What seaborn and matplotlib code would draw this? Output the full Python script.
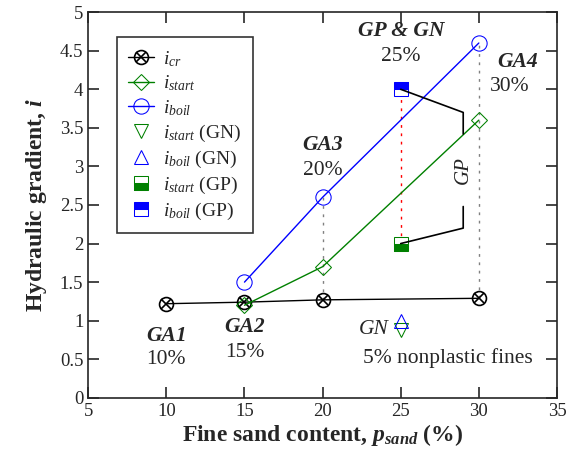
import matplotlib
matplotlib.use("Agg")
import matplotlib.pyplot as plt
import seaborn as sns

# GA series (fine sand content, %)
sand_cr = [10, 15, 20, 30]
i_cr = [1.22, 1.24, 1.27, 1.29]
sand_ga = [15, 20, 30]
i_start = [1.2, 1.7, 3.6]
i_boil = [1.5, 2.6, 4.6]

# GN / GP specimens at 25 %
sand_g = [25]
i_start_gn = [0.88]
i_boil_gn = [0.99]
i_start_gp = [2.0]
i_boil_gp = [4.0]

sns.set_style("ticks")
plt.rcParams['font.family'] = ['Liberation Serif', 'DejaVu Serif']
plt.rcParams['mathtext.fontset'] = 'custom'
plt.rcParams['mathtext.it'] = 'Liberation Serif:italic'
plt.rcParams['mathtext.rm'] = 'Liberation Serif'
plt.rcParams['mathtext.bf'] = 'Liberation Serif:italic:bold'

green = '#008000'
blue = '#0000ff'

fig, ax = plt.subplots(figsize=(5.73, 4.68), dpi=100)
fig.subplots_adjust(left=0.154, right=0.972, top=0.974, bottom=0.15)

# guide lines
ax.plot([20, 20], [1.27, 2.6], ls=(0, (2, 4)), color='gray', lw=1)
ax.plot([30, 30], [1.29, 4.6], ls=(0, (2, 4)), color='gray', lw=1)
ax.plot([25, 25], [2.0, 4.0], ls=(0, (2, 4)), color='red', lw=1)

sns.lineplot(x=sand_cr, y=i_cr, ax=ax, color='black', lw=1, marker='o', ms=10,
             mfc='none', mec='black', mew=1.2, label=r'$i_{cr}$')
xmark, = ax.plot(sand_cr, i_cr, ls='none', marker='x', ms=7, color='black', mew=1.2)
sns.lineplot(x=sand_ga, y=i_start, ax=ax, color=green, lw=1, marker='D', ms=8,
             mfc='none', mec=green, label=r'$i_{start}$')
sns.lineplot(x=sand_ga, y=i_boil, ax=ax, color=blue, lw=1, marker='o', ms=11,
             mfc='none', mec=blue, label=r'$i_{boil}$')
sns.lineplot(x=sand_g, y=i_start_gn, ax=ax, ls='none', marker='v', ms=10,
             mfc='none', mec=green, color=green, label=r'$i_{start}$ (GN)')
sns.lineplot(x=sand_g, y=i_boil_gn, ax=ax, ls='none', marker='^', ms=10,
             mfc='none', mec=blue, color=blue, label=r'$i_{boil}$ (GN)')
sns.lineplot(x=sand_g, y=i_start_gp, ax=ax, ls='none', marker='s', ms=10,
             fillstyle='bottom', mfc=green, mfcalt='white', mec=green, color=green,
             label=r'$i_{start}$ (GP)')
sns.lineplot(x=sand_g, y=i_boil_gp, ax=ax, ls='none', marker='s', ms=10,
             fillstyle='top', mfc=blue, mfcalt='white', mec=blue, color=blue,
             label=r'$i_{boil}$ (GP)')

# GP brackets
ax.plot([25, 29, 29], [4.0, 3.7, 3.42], color='black', lw=1.2)
ax.plot([25, 29, 29], [2.0, 2.2, 2.48], color='black', lw=1.2)
ax.text(29, 2.95, 'GP', rotation=90, ha='center', va='center', fontsize=15, style='italic')

fs = 15.5
ax.text(10, 0.8, 'GA1', ha='center', va='center', fontsize=fs, weight='bold', style='italic')
ax.text(10, 0.5, '10%', ha='center', va='center', fontsize=fs)
ax.text(15, 0.92, 'GA2', ha='center', va='center', fontsize=fs, weight='bold', style='italic')
ax.text(15, 0.59, '15%', ha='center', va='center', fontsize=fs)
ax.text(20, 3.28, 'GA3', ha='center', va='center', fontsize=fs, weight='bold', style='italic')
ax.text(20, 2.95, '20%', ha='center', va='center', fontsize=fs)
ax.text(25, 4.75, 'GP & GN', ha='center', va='center', fontsize=fs, weight='bold', style='italic')
ax.text(25, 4.42, '25%', ha='center', va='center', fontsize=fs)
ax.text(32.5, 4.36, 'GA4', ha='center', va='center', fontsize=fs, weight='bold', style='italic')
ax.text(32.0, 4.03, '30%', ha='center', va='center', fontsize=fs)
ax.text(23.3, 0.88, 'GN', ha='center', va='center', fontsize=fs, style='italic')
ax.text(28.0, 0.52, '5% nonplastic fines', ha='center', va='center', fontsize=fs)

ax.set_xlim(5, 35)
ax.set_ylim(0, 5)
ax.set_xticks(range(5, 36, 5))
ax.set_yticks([i * 0.5 for i in range(11)])
ax.set_yticklabels(['0', '0.5', '1', '1.5', '2', '2.5', '3', '3.5', '4', '4.5', '5'])
ax.tick_params(direction='in', top=True, right=True, length=8, width=1.2, labelsize=13.5)
for s in ax.spines.values():
    s.set_linewidth(1.2)
ax.set_xlabel(r'Fine sand content, $\mathbf{p_{sand}}$ (%)', fontsize=17, weight='bold', labelpad=2)
ax.set_ylabel(r'Hydraulic gradient, $\mathbf{i}$', fontsize=17, weight='bold', labelpad=8)

handles, labels = ax.get_legend_handles_labels()
handles[0] = (handles[0], xmark)
leg = ax.legend(handles, labels, loc='upper left', bbox_to_anchor=(0.04, 0.96), fontsize=14,
                frameon=True, fancybox=False, edgecolor='black', handlelength=1.3,
                labelspacing=0.25, borderpad=0.6, handletextpad=0.5)
leg.get_frame().set_linewidth(1.2)

fig.savefig('out.png', dpi=100)
